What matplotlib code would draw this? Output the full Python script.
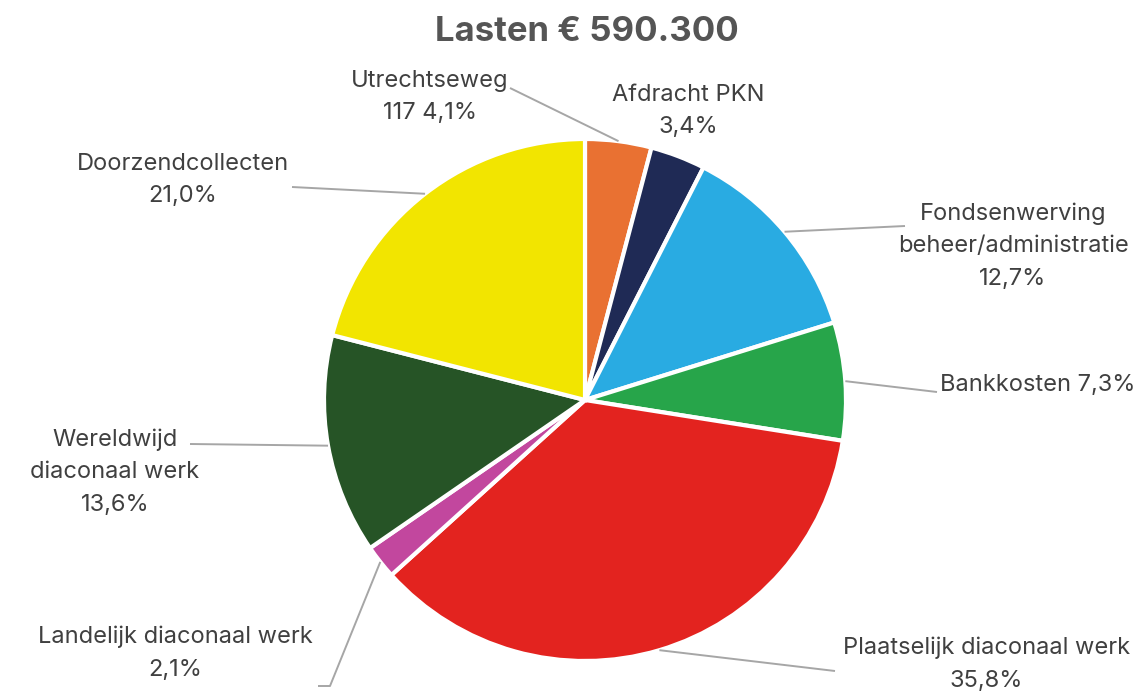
import numpy as np
import matplotlib.pyplot as plt

# Lasten (expenses) shares in percent, clockwise from 12 o'clock
labels = ["Utrechtseweg\n117 4,1%", "Afdracht PKN\n3,4%",
          "Fondsenwerving\nbeheer/administratie\n12,7%", "Bankkosten 7,3%",
          "Plaatselijk diaconaal werk\n35,8%", "Landelijk diaconaal werk\n2,1%",
          "Wereldwijd\ndiaconaal werk\n13,6%", "Doorzendcollecten\n21,0%"]
shares = [4.1, 3.4, 12.7, 7.3, 35.8, 2.1, 13.6, 21.0]
colors = ["#E97132", "#1F2A55", "#29ABE2", "#27A54A",
          "#E3231F", "#C2479E", "#265426", "#F2E500"]
title = "Lasten € 590.300"

W, H = 1141, 692
CX, CY, R = 585, 400, 261

# label layout in pixel coords (x, y of text anchor, ha) and leader line end (None = no line)
label_pos = [(430, 97, "center"), (688, 111, "center"), (1013, 246, "center"),
             (940, 385, "left"), (843, 664, "left"), (175, 653, "center"),
             (115, 472, "center"), (183, 180, "center")]
line_end = [(510, 88), None, (905, 226), (937, 392),
            [(835, 671)], [(330, 686), (318, 686)], (190, 444), (292, 187)]

plt.rcParams["font.family"] = ["Inter", "DejaVu Sans"]
fig = plt.figure(figsize=(W / 100, H / 100), dpi=100)
ax = fig.add_axes([0, 0, 1, 1])


def py(y):
    return H - y


wedges, _ = ax.pie(shares, colors=colors, startangle=90, counterclock=False,
                   center=(CX, py(CY)), radius=R,
                   wedgeprops=dict(edgecolor="white", linewidth=3))
ax.set_xlim(0, W)
ax.set_ylim(0, H)
ax.set_aspect("equal")
ax.axis("off")

total = sum(shares)
cum = np.cumsum([0] + shares)
for i, lab in enumerate(labels):
    mid = (cum[i] + cum[i + 1]) / 2 / total
    ang = np.deg2rad(90 - 360 * mid)
    px, pyy = CX + R * np.cos(ang), CY - R * np.sin(ang)
    end = line_end[i]
    if end is not None:
        pts = [(px, pyy)]
        if isinstance(end, list):
            pts += end
        else:
            pts.append(end)
        xs = [p[0] for p in pts]
        ys = [py(p[1]) for p in pts]
        ax.plot(xs, ys, color="#A6A6A6", linewidth=1.4, zorder=1,
                solid_capstyle="butt")
    x, y, ha = label_pos[i]
    ax.text(x, py(y), lab, ha=ha, va="center", multialignment="center",
            fontsize=17, color="#404040", linespacing=1.62, clip_on=False)

ax.text(587, py(32), title, ha="center", va="center", fontsize=25,
        fontweight="bold", color="#555555")

fig.savefig("out.png", dpi=100)
